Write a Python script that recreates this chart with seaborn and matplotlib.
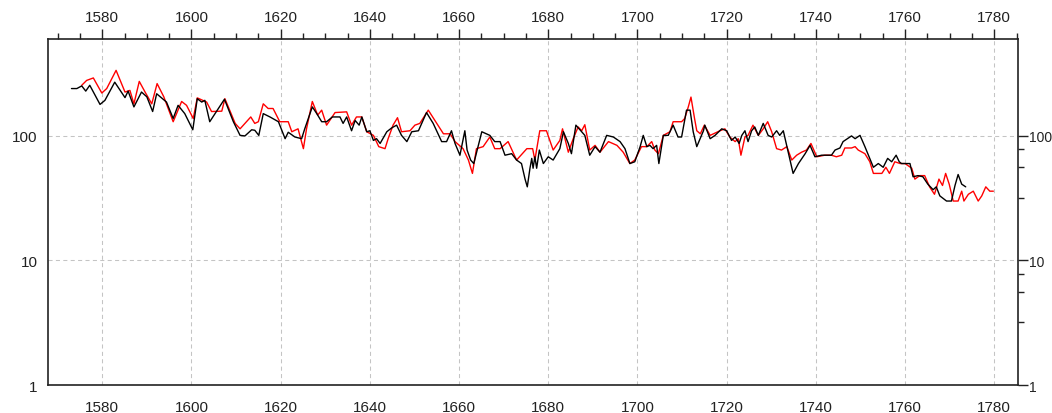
import numpy as np
import pandas as pd
import matplotlib
matplotlib.use("Agg")
import matplotlib.pyplot as plt
import seaborn as sns
from matplotlib.ticker import FixedLocator, FixedFormatter, MultipleLocator, NullFormatter

# Values (year, index value)
black_years = [1573.1, 1574.3, 1575.4, 1576.3, 1577.2, 1579.5, 1580.6, 1582.8, 1585.1, 1585.8,
               1587.1, 1588.8, 1590.0, 1591.3, 1592.2, 1594.4, 1595.9, 1597.0, 1598.5, 1600.3,
               1601.3, 1602.3, 1603.0, 1604.1, 1605.6, 1607.4, 1609.4, 1610.9, 1612.0, 1613.5,
               1614.2, 1615.1, 1616.1, 1617.6, 1619.5, 1621.0, 1621.7, 1623.2, 1624.7, 1625.4,
               1627.1, 1628.1, 1629.2, 1630.3, 1631.6, 1633.3, 1634.0, 1634.8, 1635.9, 1636.7,
               1637.6, 1638.2, 1639.3, 1640.0, 1640.8, 1641.5, 1642.3, 1643.8, 1644.9, 1646.0,
               1647.1, 1648.3, 1649.4, 1650.9, 1652.7, 1654.2, 1656.1, 1657.2, 1658.3, 1659.1,
               1660.2, 1661.3, 1661.8, 1662.6, 1663.3, 1665.1, 1666.9, 1668.0, 1669.2, 1670.3,
               1671.8, 1672.9, 1674.0, 1674.8, 1675.3, 1675.9, 1676.3, 1676.6, 1677.0, 1677.4,
               1678.0, 1678.9, 1680.0, 1681.1, 1682.6, 1683.4, 1684.5, 1685.2, 1686.2, 1687.5,
               1688.2, 1689.3, 1690.5, 1691.6, 1693.1, 1694.6, 1696.1, 1697.2, 1698.3, 1699.4,
               1700.6, 1701.3, 1702.1, 1702.8, 1703.5, 1704.3, 1704.8, 1705.8, 1706.9, 1708.0,
               1709.1, 1709.9, 1711.0, 1711.8, 1712.5, 1713.3, 1714.8, 1715.1, 1716.3, 1717.4,
               1718.9, 1720.0, 1721.1, 1721.9, 1722.8, 1723.4, 1724.1, 1724.8, 1725.6, 1726.3,
               1727.1, 1728.2, 1729.3, 1730.1, 1731.2, 1731.9, 1732.7, 1733.8, 1734.9, 1736.1,
               1737.6, 1738.7, 1739.8, 1741.3, 1743.5, 1744.3, 1745.4, 1746.1, 1748.0, 1748.8,
               1749.9, 1751.0, 1752.9, 1754.0, 1755.1, 1756.1, 1757.0, 1758.0, 1758.7, 1759.2,
               1761.1, 1761.8, 1762.9, 1764.0, 1765.1, 1766.3, 1767.0, 1767.8, 1769.3, 1770.4,
               1771.2, 1771.9, 1772.7, 1773.6]
black_values = [240, 240, 252, 229, 255, 179, 193, 270, 203, 229,
                171, 225, 206, 157, 218, 187, 138, 176, 151, 112,
                199, 187, 193, 130, 157, 197, 130, 101, 100, 112,
                111, 101, 151, 142, 130, 95, 107, 98, 95, 114,
                171, 151, 130, 130, 142, 142, 126, 142, 110, 133,
                122, 142, 108, 110, 92, 95, 87, 108, 116, 122,
                101, 90, 108, 110, 154, 126, 90, 90, 110, 87,
                70, 110, 77, 64, 60, 108, 101, 90, 90, 70,
                72, 64, 60, 45, 39, 55, 66, 55, 68, 55,
                77, 60, 68, 64, 79, 108, 87, 72, 122, 108,
                101, 70, 82, 74, 101, 98, 90, 79, 60, 62,
                82, 101, 82, 84, 79, 84, 60, 101, 101, 122,
                98, 98, 161, 161, 108, 82, 110, 122, 95, 101,
                114, 110, 92, 98, 87, 101, 110, 90, 110, 118,
                101, 126, 101, 98, 110, 101, 110, 74, 50, 60,
                72, 84, 68, 70, 70, 77, 80, 90, 100, 95,
                101, 82, 56, 60, 56, 66, 62, 70, 62, 60,
                60, 47, 48, 47, 41, 37, 39, 33, 30, 30,
                40, 49, 41, 39]

red_years = [1575.4, 1576.5, 1578.0, 1579.9, 1581.0, 1583.1, 1585.1, 1586.2, 1587.1, 1588.3,
             1589.6, 1591.1, 1592.3, 1593.8, 1595.9, 1597.8, 1598.9, 1600.4, 1601.3, 1603.4,
             1604.5, 1606.8, 1607.5, 1609.8, 1610.9, 1613.3, 1614.2, 1615.0, 1616.1, 1617.2,
             1618.3, 1619.8, 1621.7, 1622.5, 1623.9, 1625.1, 1625.8, 1627.1, 1628.3, 1629.2,
             1630.3, 1632.2, 1634.8, 1635.9, 1637.0, 1638.2, 1639.3, 1640.8, 1642.0, 1643.4,
             1644.1, 1645.2, 1646.2, 1647.1, 1649.0, 1650.1, 1651.2, 1653.1, 1655.0, 1656.5,
             1658.0, 1659.1, 1660.9, 1662.1, 1663.0, 1663.9, 1665.4, 1666.9, 1668.0, 1669.2,
             1671.0, 1672.9, 1675.2, 1676.5, 1677.0, 1678.1, 1679.6, 1681.1, 1682.6, 1683.2,
             1684.5, 1685.6, 1686.7, 1687.5, 1688.2, 1689.3, 1690.5, 1691.6, 1693.5, 1695.4,
             1696.8, 1698.3, 1699.4, 1700.9, 1702.1, 1703.2, 1703.9, 1704.7, 1705.8, 1707.3,
             1708.0, 1709.9, 1710.6, 1711.4, 1712.0, 1712.8, 1713.3, 1714.1, 1715.0, 1716.3,
             1718.5, 1719.6, 1720.7, 1721.9, 1722.6, 1723.2, 1724.1, 1724.8, 1725.9, 1727.1,
             1728.2, 1729.2, 1730.1, 1731.2, 1732.3, 1733.5, 1734.6, 1735.7, 1736.8, 1737.9,
             1738.9, 1739.4, 1740.2, 1742.0, 1743.5, 1744.6, 1745.8, 1746.5, 1748.0, 1748.8,
             1749.5, 1751.0, 1752.1, 1752.9, 1754.8, 1755.7, 1756.5, 1757.7, 1758.9, 1760.0,
             1761.5, 1762.2, 1763.3, 1764.4, 1765.5, 1766.6, 1767.6, 1768.4, 1769.1, 1769.9,
             1770.8, 1771.9, 1772.7, 1773.2, 1774.2, 1775.3, 1776.4, 1777.2, 1778.1, 1779.0,
             1779.8]
red_values = [255, 279, 292, 221, 240, 336, 225, 232, 181, 274,
              225, 181, 263, 206, 130, 189, 176, 138, 202, 187,
              157, 158, 199, 126, 114, 142, 126, 130, 181, 166,
              166, 130, 130, 108, 114, 79, 114, 189, 147, 161,
              122, 154, 156, 122, 142, 142, 108, 101, 82, 79,
              95, 122, 140, 108, 110, 122, 126, 161, 126, 104,
              104, 90, 79, 64, 50, 79, 82, 98, 79, 79,
              90, 64, 79, 79, 64, 110, 110, 77, 92, 114,
              74, 95, 118, 110, 123, 77, 84, 74, 90, 84,
              74, 60, 64, 82, 82, 90, 77, 72, 101, 108,
              130, 130, 138, 171, 205, 138, 110, 104, 122, 101,
              110, 114, 98, 90, 95, 70, 98, 101, 122, 101,
              114, 130, 108, 79, 77, 82, 64, 70, 74, 77,
              87, 79, 68, 70, 70, 68, 70, 80, 80, 82,
              77, 72, 62, 50, 50, 56, 50, 62, 60, 60,
              55, 45, 48, 48, 39, 34, 45, 40, 50, 41,
              30, 30, 36, 30, 34, 36, 30, 33, 39, 36,
              36]

x_major = list(range(1580, 1781, 20))
y_major = [1, 10, 100]
y_labels = ['1', '10', '100']
y_minor = [3.2, 5.6, 7.8, 32, 56, 78]

sns.set_style('white')
plt.rcParams['font.family'] = ['Liberation Sans', 'DejaVu Sans']

df_black = pd.DataFrame({'year': black_years, 'value': black_values})
df_red = pd.DataFrame({'year': red_years, 'value': red_values})

fig = plt.figure(figsize=(10.52, 4.14), dpi=100)
ax = fig.add_axes([0.0459, 0.0676, 0.9221, 0.8358])

sns.lineplot(data=df_red, x='year', y='value', color='#ff0000', linewidth=1.0,
             estimator=None, sort=False, ax=ax)
sns.lineplot(data=df_black, x='year', y='value', color='#000000', linewidth=1.0,
             estimator=None, sort=False, ax=ax)

ax.set_yscale('log')
ax.set_xlim(1567.9, 1785.4)
ax.set_ylim(1, 600)
ax.set_xlabel('')
ax.set_ylabel('')

ax.xaxis.set_major_locator(FixedLocator(x_major))
ax.xaxis.set_minor_locator(MultipleLocator(5))
ax.yaxis.set_major_locator(FixedLocator(y_major))
ax.yaxis.set_major_formatter(FixedFormatter(y_labels))
ax.yaxis.set_minor_locator(FixedLocator(y_minor))
ax.yaxis.set_minor_formatter(NullFormatter())

ax.tick_params(axis='both', which='both', direction='out', top=True, right=True,
               labeltop=True, labelright=True, color='#222222', labelcolor='#222222',
               width=1.0, labelsize=11)
ax.tick_params(which='major', length=7)
ax.tick_params(which='minor', length=4.5)
ax.tick_params(axis='x', pad=3.5)
ax.tick_params(axis='y', pad=0.5)

# right-hand labels sit against the figure edge, keep them a touch smaller
for t in ax.yaxis.get_major_ticks():
    t.label2.set_fontsize(10)

for s in ax.spines.values():
    s.set_color('#222222')
    s.set_linewidth(1.2)

ax.grid(True, which='major', color='#c4c4c4', linestyle=(0, (3.9, 3.2)), linewidth=0.75)
ax.set_axisbelow(True)

fig.savefig('out.png', dpi=100)
